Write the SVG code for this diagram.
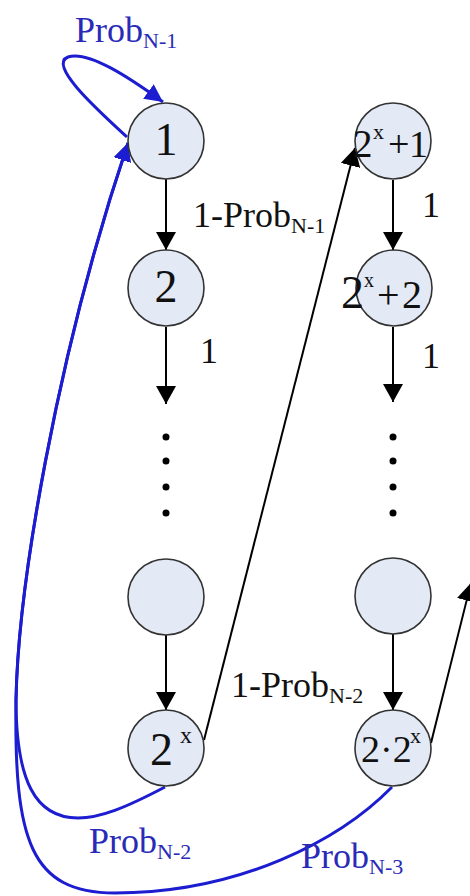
<svg xmlns="http://www.w3.org/2000/svg" width="470" height="896" viewBox="0 0 470 896">
<style>
  .node circle { fill: #e3e9f5; stroke: #333333; stroke-width: 1.6; }
  text { font-family: "Liberation Serif", "Times New Roman", serif; }
  .nl { fill: #111111; font-size: 46px; }
  .el { fill: #111111; font-size: 36px; }
  .bl { fill: #2a2ab8; font-size: 36px; }
  .sub { font-size: 22px; }
  .k { stroke: #000000; stroke-width: 2; fill: none; }
  .b { stroke: #1c1cd0; stroke-width: 3; fill: none; }
  .dot { fill: #000000; }
</style>
<defs>
  <marker id="ak" viewBox="0 0 18 20" refX="18" refY="10" markerWidth="18" markerHeight="20" markerUnits="userSpaceOnUse" orient="auto">
    <path d="M0,0 L18,10 L0,20 z" fill="#000000"/>
  </marker>
  <marker id="ab" viewBox="0 0 18 18" refX="18" refY="9" markerWidth="18" markerHeight="18" markerUnits="userSpaceOnUse" orient="auto">
    <path d="M0,0 L18,9 L0,18 z" fill="#1c1cd0"/>
  </marker>
</defs>

<g id="connectors">
  <line class="k" x1="166" y1="179" x2="166" y2="250" marker-end="url(#ak)"/>
  <line class="k" x1="166" y1="327" x2="166" y2="404" marker-end="url(#ak)"/>
  <line class="k" x1="166" y1="635" x2="166" y2="710" marker-end="url(#ak)"/>
  <line class="k" x1="393" y1="180" x2="393" y2="250" marker-end="url(#ak)"/>
  <line class="k" x1="393" y1="327" x2="393" y2="402" marker-end="url(#ak)"/>
  <line class="k" x1="393" y1="634" x2="393" y2="710" marker-end="url(#ak)"/>
  <line class="k" x1="204" y1="740" x2="355" y2="148" marker-end="url(#ak)"/>
  <line class="k" x1="431" y1="743" x2="471" y2="583" marker-end="url(#ak)"/>
  <path class="b" d="M127,137 C100,112 47,65 68,57 C88,50 130,78 163,102" marker-end="url(#ab)"/>
  <path class="b" d="M165,787 C125,808 100,818 78,818 C35,818 16,780 16,700 C18,590 55,360 128,143" marker-end="url(#ab)"/>
  <path class="b" d="M392,787 C340,840 240,893 115,893 C30,893 14,840 16,700 C18,590 55,360 128,143" marker-end="url(#ab)"/>
</g>

<g id="dots">
  <circle class="dot" cx="166" cy="437" r="3.5"/>
  <circle class="dot" cx="166" cy="461" r="3.5"/>
  <circle class="dot" cx="166" cy="487" r="3.5"/>
  <circle class="dot" cx="166" cy="513" r="3.5"/>
  <circle class="dot" cx="393" cy="437" r="3.5"/>
  <circle class="dot" cx="393" cy="461" r="3.5"/>
  <circle class="dot" cx="393" cy="487" r="3.5"/>
  <circle class="dot" cx="393" cy="513" r="3.5"/>
</g>

<g id="n1" class="node">
  <circle cx="166" cy="141" r="38"/>
  <text class="nl" x="166" y="155" text-anchor="middle">1</text>
</g>
<g id="n2" class="node">
  <circle cx="166" cy="288" r="38"/>
  <text class="nl" x="166" y="302" text-anchor="middle">2</text>
</g>
<g id="n3" class="node">
  <circle cx="166" cy="597" r="38"/>
</g>
<g id="n4" class="node">
  <circle cx="166" cy="748" r="38"/>
  <text class="nl"><tspan x="150" y="765">2</tspan><tspan x="180" y="743" font-size="24">x</tspan></text>
</g>
<g id="n5" class="node">
  <circle cx="393" cy="141" r="38"/>
  <text class="nl"><tspan x="353" y="157" font-size="39">2</tspan><tspan x="373" y="139" font-size="22">x</tspan><tspan x="388" y="157" font-size="38">+</tspan><tspan x="409" y="157" font-size="38">1</tspan></text>
</g>
<g id="n6" class="node">
  <circle cx="394" cy="288" r="38"/>
  <text class="nl"><tspan x="341" y="308">2</tspan><tspan x="364" y="287" font-size="20">x</tspan><tspan x="377" y="308" font-size="40">+</tspan><tspan x="402" y="308" font-size="40">2</tspan></text>
</g>
<g id="n7" class="node">
  <circle cx="393" cy="596" r="38"/>
</g>
<g id="n8" class="node">
  <circle cx="393" cy="748" r="38"/>
  <text class="nl"><tspan x="361" y="762" font-size="38">2·2</tspan><tspan x="410" y="743" font-size="22">x</tspan></text>
</g>

<g id="labels">
  <text class="bl" x="75" y="42">Prob<tspan class="sub" dy="6">N-1</tspan></text>
  <text class="el" x="193" y="227">1-Prob<tspan class="sub" dy="6">N-1</tspan></text>
  <text class="el" x="200" y="363" font-size="32">1</text>
  <text class="el" x="422" y="217" font-size="32">1</text>
  <text class="el" x="422" y="368" font-size="32">1</text>
  <text class="el" x="231" y="697">1-Prob<tspan class="sub" dy="6">N-2</tspan></text>
  <text class="bl" x="89" y="853">Prob<tspan class="sub" dy="6">N-2</tspan></text>
  <text class="bl" x="301" y="868">Prob<tspan class="sub" dy="6">N-3</tspan></text>
</g>
</svg>
